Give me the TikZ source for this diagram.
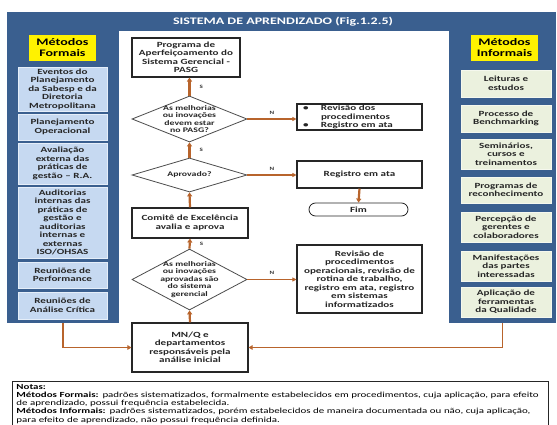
\documentclass[tikz,border=0pt]{standalone}
\usepackage{fontspec}
\setmainfont{Carlito}[FakeStretch=1.4]
\usetikzlibrary{arrows.meta,shapes.geometric}
\definecolor{azulPainel}{HTML}{3A5F8F}
\definecolor{azulCaixa}{HTML}{C6D9F1}
\definecolor{verdeCaixa}{HTML}{EBF1DE}
\definecolor{marromSeta}{HTML}{B8642C}
\newcommand{\fonteCaixa}{\fontsize{7.9}{8.5}\selectfont\bfseries}
\newcommand{\fonteLos}{\fontsize{7}{7.4}\selectfont\bfseries}

\tikzset{
  painel/.style={fill=azulPainel,inner sep=0pt},
  rotulo/.style={fill=yellow,minimum width=67,minimum height=26,inner sep=0pt,
                 align=center,font=\fontsize{10}{11}\selectfont\bfseries},
  formal/.style={fill=azulCaixa,draw=white!55!azulCaixa,line width=0.8pt,
                 minimum width=89,inner sep=0pt,align=center,font=\fonteCaixa,text=black!85},
  informal/.style={formal,fill=verdeCaixa,draw=white!50!verdeCaixa,minimum width=90},
  caixa/.style={draw=black!85,line width=1.1pt,fill=white,inner sep=0pt,
                align=center,font=\fonteCaixa,text=black!85},
  losango/.style={diamond,draw=black!70,line width=0.8pt,inner sep=0pt,fill=white},
  textoLos/.style={align=center,inner sep=0pt,font=\fonteLos,text=black!85},
  sn/.style={font=\fontsize{5}{6}\selectfont\bfseries,text=black!80,inner sep=1pt},
  passo/.style={draw=marromSeta,line width=2.2pt,-{Triangle[length=4pt,width=5pt]}},
  desvio/.style={draw=marromSeta,line width=1.2pt,-{Triangle[length=4pt,width=4pt]}},
  alimenta/.style={draw=marromSeta,line width=1.8pt,-{Triangle[length=4pt,width=4.5pt]}}
}

\begin{document}
\begin{tikzpicture}[x=1pt,y=-1pt]
  \useasboundingbox (0,0) rectangle (557,425);
  \clip (0,0) rectangle (557,425);
  \fill[white] (0,0) rectangle (557,425);
  % moldura azul
  \node[painel,minimum width=112,minimum height=311] (formais) at (63,167.5) {};
  \node[painel,minimum width=107,minimum height=311] (informais) at (502.5,167.5) {};
  \node[painel,minimum width=549,minimum height=19,text=white,
        font=\fontsize{10}{12}\selectfont\bfseries] (titulo) at (281.5,21.5)
        {\hspace*{3pt}SISTEMA DE APRENDIZADO (Fig.1.2.5)};
  % metodos formais
  \node[rotulo] (rotFormais) at (62.5,48) {Métodos\\Formais};
  \node[formal,minimum height=44] (eventos) at (62.5,89)
    {Eventos do\\Planejamento\\da Sabesp e da\\Diretoria\\Metropolitana};
  \node[formal,minimum height=26] (planOper) at (62.5,127) {Planejamento\\Operacional};
  \node[formal,minimum height=41] (avalExt) at (62.5,163.5)
    {Avaliação\\externa das\\práticas de\\gestão – R.A.};
  \node[formal,minimum height=71] (auditorias) at (62.5,222.5)
    {Auditorias\\internas das\\práticas de\\gestão e\\auditorias\\internas e\\externas\\ISO/OHSAS};
  \node[formal,minimum height=26] (reunPerf) at (62.5,275) {Reuniões de\\Performance};
  \node[formal,minimum height=27] (reunCrit) at (62.5,305.5) {Reuniões de\\Análise Crítica};
  % metodos informais
  \node[rotulo] (rotInformais) at (504.5,48) {Métodos\\Informais};
  \node[informal,minimum height=27] (leituras) at (506,83.5) {Leituras e\\estudos};
  \node[informal,minimum height=27] (benchmark) at (506,118.5) {Processo de\\Benchmarking};
  \node[informal,minimum height=30] (seminarios) at (506,154) {Seminários,\\cursos e\\treinamentos};
  \node[informal,minimum height=26] (programas) at (506,190) {Programas de\\reconhecimento};
  \node[informal,minimum height=30] (percepcao) at (506,227) {Percepção de\\gerentes e\\colaboradores};
  \node[informal,minimum height=30] (manifest) at (506,266) {Manifestações\\das partes\\interessadas};
  \node[informal,minimum height=30] (ferram) at (506,302) {Aplicação de\\ferramentas\\da Qualidade};
  % fluxo central
  \node[caixa,minimum width=108,minimum height=39] (pasg) at (186,57.5)
    {Programa de\\Aperfeiçoamento do\\Sistema Gerencial -\\PASG};
  \node[losango,minimum width=115,minimum height=46] (d1) at (189.5,119) {};
  \node[textoLos] (d1t) at (d1) {As melhorias\\ou inovações\\devem estar\\no PASG?};
  \node[caixa,minimum width=125,minimum height=26,inner xsep=6pt,text width=113,align=left]
    (rev1) at (359.5,117)
    {\makebox[18pt][l]{\textbullet}Revisão dos\\\hspace*{18pt}procedimentos\\\makebox[18pt][l]{\textbullet}Registro em ata};
  \node[losango,minimum width=115,minimum height=34] (d2) at (189.5,175) {};
  \node[textoLos] (d2t) at (d2) {Aprovado?};
  \node[caixa,minimum width=125,minimum height=27] (reg) at (359.5,174.5) {Registro em ata};
  \node[caixa,line width=0.8pt,rounded corners=6.5pt,minimum width=99,minimum height=13]
    (fim) at (358.5,209.5) {Fim};
  \node[caixa,minimum width=116,minimum height=30] (comite) at (190,223)
    {Comitê de Excelência\\avalia e aprova};
  \node[losango,minimum width=115,minimum height=61] (d3) at (189.5,279.5) {};
  \node[textoLos] (d3t) at (d3) {As melhorias\\ou inovações\\aprovadas são\\do sistema\\gerencial};
  \node[caixa,minimum width=125,minimum height=68] (rev2) at (359.5,279)
    {Revisão de\\procedimentos\\operacionais, revisão de\\rotina de trabalho,\\registro em ata, registro\\em sistemas\\informatizados};
  \node[caixa,minimum width=116,minimum height=49] (mnq) at (190,347.5)
    {MN/Q e\\departamentos\\responsáveis pela\\análise inicial};
  % setas
  \draw[passo] (d1.north) -- (d1.north |- pasg.south) node[sn,midway,right=8pt]{S};
  \draw[desvio] (d1.east) -- (d1.east -| rev1.west) node[sn,midway,above=3pt]{N};
  \draw[passo] (d2.north) -- (d1.south) node[sn,midway,right=8pt]{S};
  \draw[desvio] (d2.east) -- (d2.east -| reg.west) node[sn,midway,above=3pt]{N};
  \draw[passo] (reg.south) -- (fim.north);
  \draw[passo] (comite.north) -- (d2.south);
  \draw[passo] (d3.north) -- (comite.south) node[sn,midway,right=8pt]{S};
  \draw[desvio] (d3.east) -- (d3.east -| rev2.west) node[sn,midway,above=3pt]{N};
  \draw[passo] (mnq.north) -- (d3.south);
  \draw[alimenta] (formais.south) |- (mnq.west);
  \draw[alimenta] (informais.south) |- (mnq.east);
  % notas
  \node[draw=black!85,line width=0.9pt,anchor=north west,inner xsep=4pt,inner ysep=2.5pt,
        text width=528,align=left,font=\fontsize{7.8}{8.3}\selectfont]
    (notas) at (12,381)
    {\mbox{\textbf{Notas:}}\\
     \mbox{\textbf{Métodos Formais:} padrões sistematizados, formalmente estabelecidos em procedimentos, cuja aplicação, para efeito}\\
     \mbox{de aprendizado, possui frequência estabelecida.}\\
     \mbox{\textbf{Métodos Informais:} padrões sistematizados, porém estabelecidos de maneira documentada ou não, cuja aplicação,}\\
     \mbox{para efeito de aprendizado, não possui frequência definida.}};
\end{tikzpicture}
\end{document}
